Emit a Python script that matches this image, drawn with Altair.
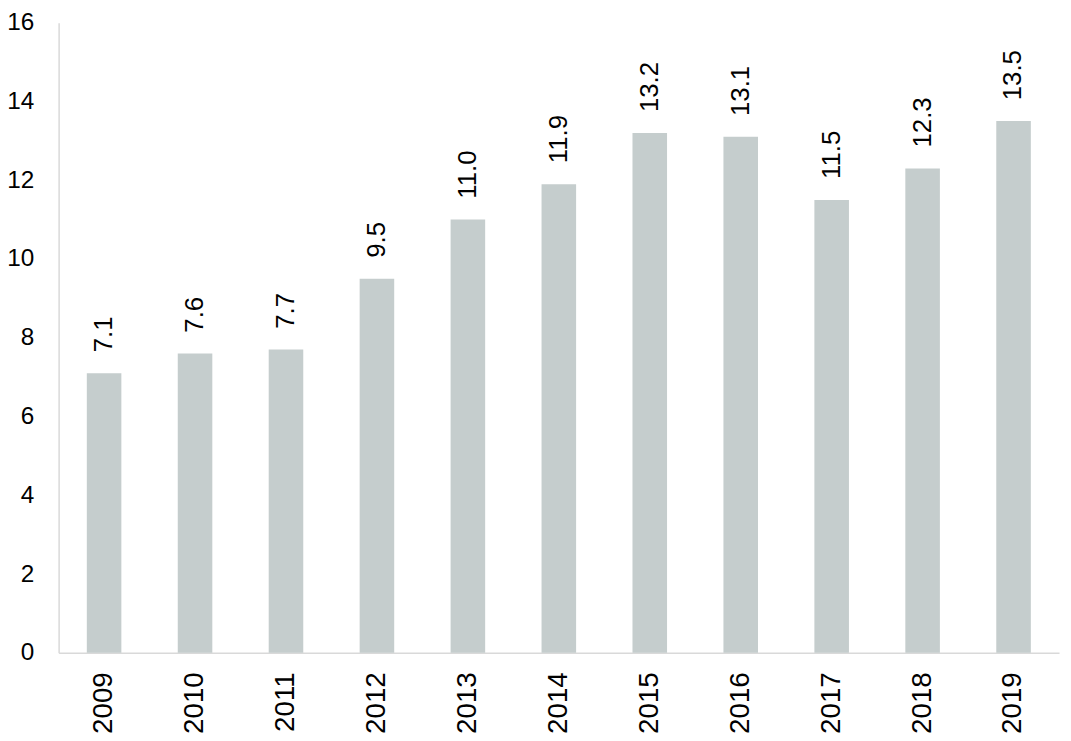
import altair as alt
import pandas as pd

years = ["2009", "2010", "2011", "2012", "2013", "2014", "2015", "2016", "2017", "2018", "2019"]
values = [7.1, 7.6, 7.7, 9.5, 11.0, 11.9, 13.2, 13.1, 11.5, 12.3, 13.5]

df = pd.DataFrame({"year": years, "value": values})

FONT = "Liberation Sans"

base = alt.Chart(df).encode(
    x=alt.X("year:N", sort=years, title=None,
            scale=alt.Scale(paddingInner=0.62, paddingOuter=0.31),
            axis=alt.Axis(labelAngle=270, labelFontSize=28, labelFont=FONT, labelColor="#000000",
                          ticks=False, domainColor="#d9d9d9", domainWidth=1.5, labelPadding=19,
                          labelAlign="right", labelBaseline="middle")),
    y=alt.Y("value:Q", title=None,
            scale=alt.Scale(domain=[0, 16], nice=False),
            axis=alt.Axis(values=list(range(0, 17, 2)), grid=False, ticks=False,
                          labelFontSize=24.5, labelFont=FONT, labelColor="#000000",
                          domainColor="#d9d9d9", domainWidth=1.5, labelPadding=25)),
)

bars = base.mark_bar(color="#c5cdcd")
labels = base.mark_text(angle=270, align="left", baseline="middle", dx=21,
                        fontSize=26, font=FONT, color="#000000").encode(
    text=alt.Text("value:Q", format=".1f"))

chart = (bars + labels).properties(
    width=1008, height=635,
    padding={"left": 51, "top": 12, "right": 4, "bottom": 80},
    autosize=alt.AutoSizeParams(type="none"),
).configure_view(stroke=None)

chart.save("out.html", embed_options={"renderer": "svg", "actions": False})
